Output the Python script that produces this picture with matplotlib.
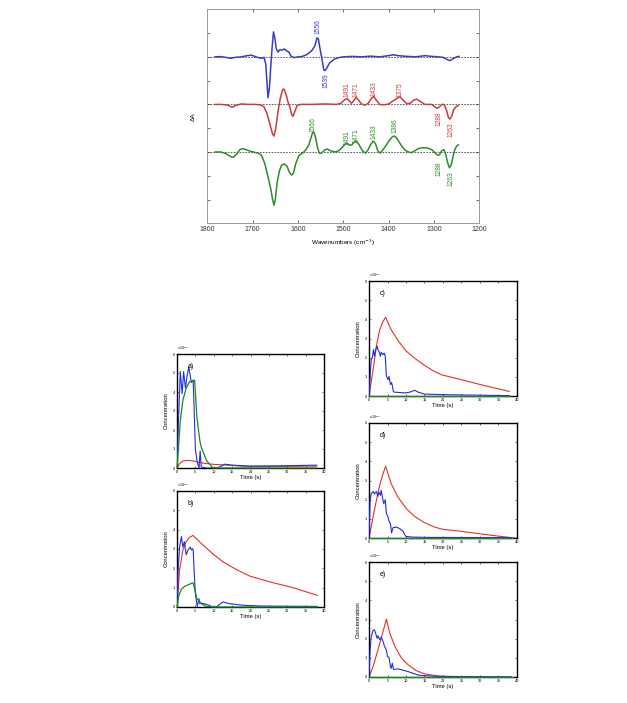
import matplotlib
matplotlib.use("Agg")
import matplotlib.pyplot as plt
import numpy as np

plt.rcParams['font.family'] = ['Liberation Sans', 'DejaVu Sans']

# ---------------- Spectra (top panel) ----------------
blue_wn = [1783,1770,1760,1748,1738,1725,1712,1703,1695,1688,1680,1675,1671,1668,1666,1663,1660,1657,1654,1651,1648,1644,1640,1636,1630,1625,1620,1615,1608,1600,1590,1580,1570,1563,1558,1555,1551,1547,1543,1540,1536,1530,1520,1510,1500,1480,1460,1440,1420,1400,1390,1380,1360,1340,1320,1305,1290,1280,1272,1265,1258,1250,1245]
blue_dA = [0,0.01,-0.02,-0.06,-0.02,0.0,0.05,0.07,0.02,-0.03,-0.06,-0.02,-0.3,-1.2,-1.72,-1.3,-0.4,0.4,1.05,0.8,0.35,0.2,0.3,0.28,0.33,0.25,0.2,0.02,-0.03,0.0,0.02,0.1,0.25,0.45,0.8,0.75,0.3,-0.1,-0.55,-0.58,-0.45,-0.25,-0.1,-0.03,0,0.02,0.0,0.03,0.0,0.05,0.09,0.05,0.02,0.0,0.05,0.02,0.0,-0.02,-0.1,-0.16,-0.08,0.0,0.02]

red_wn = [1783,1770,1755,1745,1738,1725,1710,1695,1682,1675,1668,1661,1656,1653,1649,1644,1639,1634,1631,1626,1622,1618,1614,1611,1607,1602,1595,1570,1540,1515,1505,1497,1492,1487,1482,1477,1472,1467,1460,1452,1445,1438,1433,1428,1420,1410,1400,1390,1380,1375,1368,1360,1352,1345,1338,1330,1320,1305,1298,1293,1288,1282,1278,1273,1268,1265,1261,1256,1250,1246]
red_dA = [0,0,-0.03,-0.12,-0.05,0.02,0.0,0.0,-0.02,-0.1,-0.4,-0.9,-1.25,-1.33,-1.0,-0.3,0.25,0.62,0.65,0.4,0.1,-0.1,-0.42,-0.5,-0.3,-0.05,0.0,0.0,0.02,0.0,0.05,0.2,0.25,0.15,0.05,0.15,0.29,0.2,0.02,-0.03,0.05,0.25,0.34,0.2,0.0,-0.02,0.02,0.15,0.28,0.32,0.18,0.03,0.05,0.18,0.22,0.12,0.0,0.0,-0.1,-0.17,-0.1,0.0,0.0,-0.2,-0.55,-0.62,-0.5,-0.2,-0.08,-0.05]

green_wn = [1783,1770,1758,1748,1742,1735,1728,1722,1715,1705,1695,1687,1680,1673,1666,1660,1656,1653,1650,1646,1641,1636,1630,1624,1619,1614,1610,1605,1598,1590,1582,1576,1572,1568,1565,1561,1557,1553,1548,1540,1535,1528,1518,1510,1502,1496,1491,1486,1481,1476,1471,1465,1458,1451,1445,1440,1434,1429,1424,1419,1412,1405,1398,1392,1387,1381,1373,1365,1357,1350,1342,1335,1325,1315,1305,1297,1292,1288,1283,1278,1274,1270,1266,1262,1258,1254,1250,1246]
green_dA = [0,0.0,-0.08,-0.2,-0.22,-0.08,0.1,0.14,0.1,0.03,-0.02,-0.05,-0.15,-0.5,-1.05,-1.55,-2.0,-2.24,-2.0,-1.3,-0.8,-0.55,-0.5,-0.6,-0.85,-0.97,-0.9,-0.5,-0.15,-0.05,0.1,0.3,0.55,0.8,0.84,0.6,0.2,-0.05,-0.05,0.1,0.12,0.05,0.0,0.05,0.2,0.33,0.36,0.28,0.3,0.42,0.46,0.3,0.05,-0.05,0.1,0.3,0.46,0.35,0.05,-0.05,0.1,0.3,0.5,0.64,0.67,0.55,0.3,0.1,0.0,-0.03,0.05,0.14,0.18,0.17,0.1,-0.05,-0.14,-0.12,0.05,0.1,-0.1,-0.45,-0.66,-0.55,-0.2,0.1,0.25,0.3]

spec_offsets = [7, 5, 3]
spec_colors = ['#3a3acd', '#cc3a3a', '#2e8b2e']

# peak labels: (text, wavenumber, y position)
blue_labels = [('1556', 1556, 8.26), ('1539', 1539, 5.99)]
red_labels = [('1491', 1491, 5.6), ('1471', 1471, 5.6), ('1433', 1433, 5.67),
              ('1375', 1375, 5.63), ('1288', 1288, 4.41), ('1263', 1263, 3.92)]
green_labels = [('1566', 1566, 4.17), ('1491', 1491, 3.6), ('1471', 1471, 3.67),
                ('1433', 1433, 3.85), ('1386', 1386, 4.09), ('1288', 1288, 2.31),
                ('1263', 1263, 1.89)]

wn_ticks = [1800, 1700, 1600, 1500, 1400, 1300, 1200]

# ---------------- Concentration profiles ----------------
a_blue_t = [0,0.4,0.9,1.4,1.8,2.3,2.7,3.2,3.9,4.4,4.6,5.0,5.5,6.0,6.3,6.6,8,11,13,15,20,30,38]
a_blue_c = [0,2.5,5.07,3.9,5.07,4.2,4.8,5.33,4.5,4.6,3.5,1.0,0.3,0.0,0.9,0.05,0.0,0.0,0.2,0.15,0.1,0.12,0.15]
a_green_t = [0,0.3,0.9,1.6,2.5,3.4,4.8,5.4,6.2,6.6,8,9.8,38]
a_green_c = [0,0.8,2.5,3.57,4.2,4.54,4.63,2.7,1.46,1.1,0.4,0.0,0.0]
a_red_t = [0,0.7,1.6,3.0,4.4,7.0,10,15,18,25,38]
a_red_c = [0,0.23,0.37,0.4,0.37,0.26,0.19,0.14,0.09,0.08,0.1]

b_red_t = [0,0.7,1.6,2.5,3.4,4.35,7.1,9.8,12.5,16.1,19.8,25.2,31.6,38.2]
b_red_c = [0,1.9,2.95,3.38,3.6,3.7,3.2,2.74,2.34,1.94,1.6,1.3,1.0,0.6]
b_blue_t = [0,0.3,0.7,1.2,1.6,2.0,2.5,3.0,3.6,3.9,4.2,4.4,4.7,5.0,5.5,6.0,6.2,6.6,8.0,9.8,10.7,12.5,14.3,18,23,38.2]
b_blue_c = [0,1.9,3.1,3.64,3.1,3.38,2.7,2.95,3.1,2.95,3.02,2.95,1.7,0.7,0.03,0.43,0.17,0.2,0.14,0.0,0.0,0.26,0.17,0.09,0.05,0.03]
b_green_t = [0,0.5,1.2,2.1,3.4,4.35,4.8,5.4,6.6,8.0,9.8,38.2]
b_green_c = [0,0.6,0.92,1.07,1.18,1.25,0.95,0.43,0.17,0.03,0.0,0.0]

c_red_t = [0,1.1,2.0,2.9,3.8,4.5,6.0,8.0,10.0,12.5,15.0,17.5,19.7,25.0,30.0,37.9]
c_red_c = [0,1.37,2.6,3.46,3.9,4.1,3.45,2.85,2.35,1.95,1.6,1.3,1.1,0.85,0.6,0.24]
c_blue_t = [0,0.3,0.6,0.9,1.2,1.5,1.8,2.2,2.4,2.7,3.1,3.3,3.8,4.1,4.4,4.7,5.2,5.4,5.8,6.1,6.3,6.6,6.9,9.7,11.0,12.4,13.3,15.0,20.5,37.9]
c_blue_c = [0,1.0,1.9,2.0,2.42,2.07,2.42,2.6,2.42,2.33,2.07,2.28,2.16,2.24,2.07,1.03,0.85,1.03,0.6,0.7,0.54,0.23,0.2,0.16,0.2,0.3,0.2,0.1,0.07,0.02]
c_green_t = [0, 38]
c_green_c = [0, 0]

d_red_t = [0,1.1,2.0,2.9,3.8,4.5,6.0,7.8,10.1,12.3,15.0,17.7,20.0,24.0,29.5,34.0,39.4]
d_red_c = [0,1.1,1.97,2.75,3.36,3.74,2.83,2.14,1.53,1.13,0.8,0.57,0.45,0.37,0.23,0.12,0.0]
d_blue_t = [0,0.3,0.6,1.1,1.5,2.0,2.4,2.7,3.1,3.3,3.6,4.0,4.4,4.7,5.1,5.5,5.8,6.1,6.5,7.4,8.3,9.2,9.9,11.5,16,38.5]
d_blue_c = [0,1.97,2.3,2.43,2.3,2.43,2.17,2.4,2.23,2.49,2.15,1.79,2.0,1.27,1.13,0.83,0.75,0.26,0.54,0.57,0.49,0.35,0.09,0.05,0.03,0.02]
d_green_t = [0, 39]
d_green_c = [0, 0]

e_red_t = [0,1.1,2.4,3.8,4.7,5.6,7.0,8.8,10.6,12.8,15.1,18.7,25.0,38.5]
e_red_c = [0,0.54,1.41,2.37,3.02,2.29,1.59,0.98,0.63,0.33,0.16,0.05,0.02,0.0]
e_blue_t = [0,0.3,0.6,1.1,1.5,2.2,2.4,2.9,3.3,3.8,4.2,4.7,5.0,5.4,5.8,6.0,6.3,6.6,7.9,10.6,13.3,16.9,20.5,38.5]
e_blue_c = [0,1.41,2.1,2.43,2.46,2.02,2.15,1.94,2.08,1.85,1.59,1.41,1.06,1.03,0.54,0.45,0.72,0.4,0.42,0.28,0.1,0.05,0.02,0.0]
e_green_t = [0, 39]
e_green_c = [0, 0]

panel_names = ['a)', 'b)', 'c)', 'd)', 'e)']
time_ticks = [0, 5, 10, 15, 20, 25, 30, 35, 40]
conc_ticks = [0, 1, 2, 3, 4, 5, 6]

W, H = 627, 703
fig = plt.figure(figsize=(W / 100, H / 100), dpi=100)
fig.patch.set_facecolor('white')

def rect(l, t, r, b):
    return [l / W, 1 - b / H, (r - l) / W, (b - t) / H]

# ---- top spectra ----
ax = fig.add_axes(rect(207.3, 9.3, 479.3, 223.3))
for wn, dA, off, col in zip([blue_wn, red_wn, green_wn], [blue_dA, red_dA, green_dA],
                            spec_offsets, spec_colors):
    ax.axhline(off, color='#444444', lw=0.6, ls=(0, (2, 1.5)), zorder=1)
    ax.plot(wn, np.array(dA) + off, color=col, lw=1.1, zorder=2)
for labels, col in zip([blue_labels, red_labels, green_labels], spec_colors):
    for txt, x, y in labels:
        ax.text(x, y, txt, rotation=90, color=col, fontsize=4.8,
                ha='center', va='center')
ax.set_xlim(1800, 1200)
ax.set_ylim(0, 9)
ax.set_xticks(wn_ticks)
ax.set_yticks([1, 2, 3, 4, 5, 6, 7, 8])
ax.set_yticklabels([])
ax.tick_params(direction='in', length=2, width=0.5, top=True, right=True,
               labelsize=5.0, pad=2, colors='#333333')
for s in ax.spines.values():
    s.set_color('#9a9a9a')
    s.set_linewidth(0.7)
ax.set_xlabel('Wavenumbers (cm$^{-1}$)', fontsize=4.6, labelpad=3)
ax.set_ylabel('ΔA', fontsize=4.6, labelpad=6)

# ---- concentration panels ----
panels = [
    (rect(177, 354, 324, 468), (a_blue_t, a_blue_c), (a_red_t, a_red_c), (a_green_t, a_green_c)),
    (rect(177, 491, 324, 607), (b_blue_t, b_blue_c), (b_red_t, b_red_c), (b_green_t, b_green_c)),
    (rect(369, 281, 517, 396), (c_blue_t, c_blue_c), (c_red_t, c_red_c), (c_green_t, c_green_c)),
    (rect(369, 423, 517, 538), (d_blue_t, d_blue_c), (d_red_t, d_red_c), (d_green_t, d_green_c)),
    (rect(369, 562, 517, 677), (e_blue_t, e_blue_c), (e_red_t, e_red_c), (e_green_t, e_green_c)),
]
for name, (pos, bl, rd, gr) in zip(panel_names, panels):
    a = fig.add_axes(pos)
    a.plot(gr[0], gr[1], color='#1a8a1a', lw=0.9, zorder=4, clip_on=False)
    a.plot(rd[0], rd[1], color='#e8302a', lw=0.8, zorder=2)
    a.plot(bl[0], bl[1], color='#1f2fe0', lw=0.8, zorder=3)
    a.set_xlim(0, 40)
    a.set_ylim(0, 6)
    a.set_xticks(time_ticks)
    a.set_yticks(conc_ticks)
    a.tick_params(direction='in', length=1.5, width=0.4, top=True, right=True,
                  labelsize=2.8, pad=1.2)
    for s in a.spines.values():
        s.set_linewidth(1.0)
    a.set_xlabel('Time (s)', fontsize=4.2, labelpad=1)
    a.set_ylabel('Concentration', fontsize=4.2, labelpad=3)
    a.text(0.07, 0.88, name, transform=a.transAxes, fontsize=5.0)
    a.text(0.0, 1.015, r'x 10$^{-3}$', transform=a.transAxes, fontsize=2.5,
           ha='left', va='bottom')

fig.savefig('out.png', dpi=100, facecolor='white')
